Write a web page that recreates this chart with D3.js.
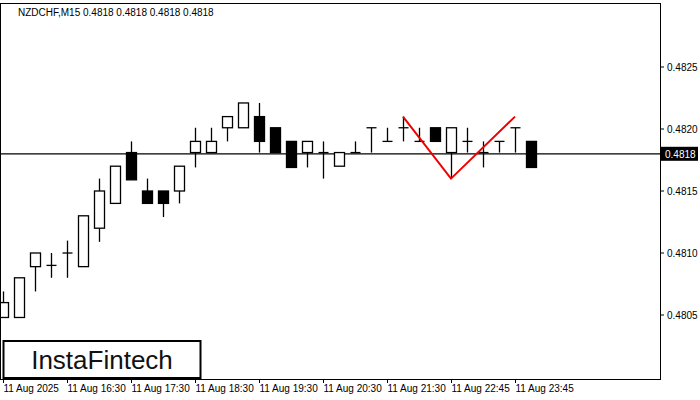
<!DOCTYPE html>
<html>
<head>
<meta charset="utf-8">
<script src="https://cdn.jsdelivr.net/npm/d3@7"></script>
<style>
body { margin: 0; background: #fff; }
text { font-family: "Liberation Sans", Arial, sans-serif; }
</style>
</head>
<body>
<svg id="chart" width="700" height="400"></svg>
<script>
// datos de velas (open, high, low, close)
const opens  = [0.48048,0.48048,0.48089,0.48090,0.48100,0.48089,0.48120,0.48140,0.48181,0.48150,0.48150,0.48150,0.48181,0.48181,0.48201,0.48201,0.48210,0.48201,0.48190,0.48181,0.48181,0.48170,0.48181,0.48201,0.48190,0.48201,0.48190,0.48201,0.48181,0.48190,0.48181,0.48190,0.48201,0.48190];
const highs  = [0.48069,0.48080,0.48100,0.48100,0.48110,0.48130,0.48160,0.48170,0.48190,0.48160,0.48150,0.48170,0.48201,0.48201,0.48210,0.48221,0.48221,0.48201,0.48190,0.48190,0.48190,0.48181,0.48190,0.48201,0.48201,0.48210,0.48201,0.48201,0.48201,0.48201,0.48190,0.48190,0.48201,0.48190];
const lows   = [0.48048,0.48048,0.48069,0.48080,0.48080,0.48089,0.48109,0.48140,0.48159,0.48140,0.48129,0.48140,0.48169,0.48181,0.48190,0.48201,0.48181,0.48181,0.48169,0.48169,0.48160,0.48170,0.48181,0.48181,0.48190,0.48190,0.48190,0.48190,0.48160,0.48181,0.48169,0.48181,0.48181,0.48169];
const closes = [0.48060,0.48080,0.48100,0.48090,0.48100,0.48130,0.48150,0.48170,0.48159,0.48140,0.48140,0.48170,0.48190,0.48190,0.48210,0.48221,0.48190,0.48181,0.48169,0.48190,0.48181,0.48181,0.48181,0.48201,0.48190,0.48201,0.48190,0.48190,0.48201,0.48190,0.48181,0.48190,0.48201,0.48169];
const xLabels = ["11 Aug 2025","11 Aug 16:30","11 Aug 17:30","11 Aug 18:30","11 Aug 19:30","11 Aug 20:30","11 Aug 21:30","11 Aug 22:45","11 Aug 23:45"];
const xLabelIdx = [0,4,8,12,16,20,24,28,32];
const yTicks = [0.4805,0.4810,0.4815,0.4820,0.4825];
const patternIdx = [25,28,32];
const patternPrice = [0.48210,0.48160,0.48210];
const lastPrice = 0.4818;

const svg = d3.select("#chart");
const plotRight = 660, plotTop = 3, plotBottom = 379;

const x = d3.scaleLinear().domain([0, 1]).range([3, 19]);
const y = d3.scaleLinear().domain([0.4805, 0.4825]).range([315, 67]);

svg.append("rect").attr("x", 0.5).attr("y", plotTop + 0.5).attr("width", plotRight).attr("height", plotBottom - plotTop)
    .attr("fill", "none").attr("stroke", "#000");

svg.append("clipPath").attr("id", "clip").append("rect")
    .attr("x", 1).attr("y", plotTop + 1).attr("width", plotRight - 1).attr("height", plotBottom - plotTop - 1);
const g = svg.append("g").attr("clip-path", "url(#clip)");

// línea de precio actual
g.append("line").attr("x1", 0).attr("x2", plotRight).attr("y1", y(lastPrice)).attr("y2", y(lastPrice))
    .attr("stroke", "#000").attr("stroke-width", 1.2);

// velas
opens.forEach((o, i) => {
    const c = closes[i], cx = Math.round(x(i)) + 0.5;
    g.append("line").attr("x1", cx).attr("x2", cx).attr("y1", y(highs[i])).attr("y2", y(lows[i]))
        .attr("stroke", "#000").attr("stroke-width", 1.3);
    const bt = y(Math.max(o, c)), bb = y(Math.min(o, c));
    if (bb - bt < 1) {
        g.append("line").attr("x1", cx - 5).attr("x2", cx + 5).attr("y1", bt).attr("y2", bt)
            .attr("stroke", "#000").attr("stroke-width", 1.3);
    } else {
        g.append("rect").attr("x", cx - 5).attr("y", bt).attr("width", 10).attr("height", bb - bt)
            .attr("fill", c < o ? "#000" : "#fff").attr("stroke", "#000").attr("stroke-width", 1.3);
    }
});

// patrón doble techo
g.append("path").datum(patternIdx.map((d, i) => [x(d), y(patternPrice[i])]))
    .attr("d", d3.line()).attr("fill", "none").attr("stroke", "#e00").attr("stroke-width", 2);

// eje Y
yTicks.forEach(t => {
    svg.append("line").attr("x1", plotRight).attr("x2", plotRight + 4).attr("y1", y(t)).attr("y2", y(t)).attr("stroke", "#000");
    svg.append("text").attr("x", 667).attr("y", y(t) + 4).attr("font-size", 10).text(t.toFixed(4));
});
svg.append("rect").attr("x", 661).attr("y", y(lastPrice) - 7).attr("width", 37).attr("height", 14).attr("fill", "#000");
svg.append("text").attr("x", 665).attr("y", y(lastPrice) + 4).attr("font-size", 10).attr("fill", "#fff").text(lastPrice.toFixed(4));

// eje X
xLabelIdx.forEach((d, i) => {
    const px = Math.round(x(d)) + 0.5;
    svg.append("line").attr("x1", px).attr("x2", px).attr("y1", plotBottom).attr("y2", plotBottom + 4).attr("stroke", "#000");
    svg.append("text").attr("x", px).attr("y", plotBottom + 13).attr("font-size", 10).text(xLabels[i]);
});

// título
svg.append("text").attr("x", 18).attr("y", 16).attr("font-size", 10)
    .text("NZDCHF,M15  0.4818 0.4818 0.4818 0.4818");

// logo
svg.append("rect").attr("x", 3.5).attr("y", 341).attr("width", 197).attr("height", 37)
    .attr("fill", "#fff").attr("stroke", "#000").attr("stroke-width", 2);
svg.append("text").attr("x", 102).attr("y", 369).attr("text-anchor", "middle")
    .attr("font-size", 26).attr("font-family", "Lato, sans-serif").attr("fill", "#111").text("InstaFintech");
</script>
</body>
</html>
